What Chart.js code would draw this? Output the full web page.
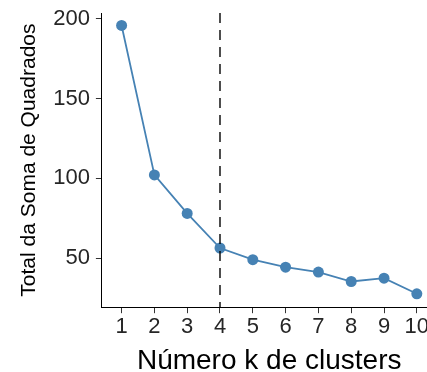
<!DOCTYPE html>
<html>
<head>
<meta charset="utf-8">
<script src="https://cdn.jsdelivr.net/npm/chart.js@4/dist/chart.umd.min.js"></script>
<style>
    html, body { margin: 0; padding: 0; background: #fff; overflow: hidden; }
    #wrap { width: 442px; height: 372px; }
</style>
</head>
<body>
<div id="wrap"><canvas id="elbowChart" width="442" height="372"></canvas></div>
<script>
// k values and total within sum of squares
const kValues = [1, 2, 3, 4, 5, 6, 7, 8, 9, 10];
const wssValues = [195.8, 102.1, 78.0, 56.3, 49.0, 44.3, 41.2, 35.3, 37.4, 27.6];
const yTickValues = [50, 100, 150, 200];
const optimalK = [4];

const yMin = 19.2, yMax = 203.6;
const xMin = 0.4, xMax = 10.6;

document.addEventListener("DOMContentLoaded", function () {
    const ctx = document.getElementById('elbowChart').getContext('2d');

    const steel = '#4682b4';
    const family = 'Liberation Sans, Arial, sans-serif';

    const data = {
        datasets: [
            {
                label: 'k',
                data: [{ x: optimalK[0], y: yMax }, { x: optimalK[0], y: yMin }],
                borderColor: '#000',
                borderWidth: 1.4,
                borderDash: [10, 7],
                pointRadius: 0,
                order: 0
            },
            {
                label: 'wss',
                data: kValues.map((k, i) => ({ x: k, y: wssValues[i] })),
                borderColor: steel,
                backgroundColor: steel,
                borderWidth: 1.8,
                pointRadius: 5.5,
                pointBorderWidth: 0,
                tension: 0,
                order: 1
            }
        ]
    };

    const options = {
        responsive: false,
        animation: false,
        layout: { padding: { left: 17, top: 13, right: 5, bottom: 0 } },
        plugins: {
            legend: { display: false },
            tooltip: { enabled: false }
        },
        scales: {
            x: {
                type: 'linear',
                min: xMin,
                max: xMax,
                afterBuildTicks: function (scale) {
                    scale.ticks = kValues.map(v => ({ value: v }));
                },
                grid: { display: true, drawOnChartArea: false, drawTicks: true, tickLength: 6, color: '#333' },
                border: { display: true, color: '#000', width: 1 },
                ticks: { color: '#262626', font: { family: family, size: 22 }, padding: 1, maxRotation: 0, autoSkip: false },
                title: {
                    display: true,
                    text: 'Número k de clusters',
                    color: '#000',
                    font: { family: family, size: 28, lineHeight: 0.8 },
                    padding: { top: 8, bottom: 0 }
                }
            },
            y: {
                type: 'linear',
                min: yMin,
                max: yMax,
                afterBuildTicks: function (scale) {
                    scale.ticks = yTickValues.map(v => ({ value: v }));
                },
                grid: { display: true, drawOnChartArea: false, drawTicks: true, tickLength: 6, color: '#333' },
                border: { display: true, color: '#000', width: 1 },
                ticks: { color: '#262626', font: { family: family, size: 22, lineHeight: 0.6 }, padding: 6 },
                title: {
                    display: true,
                    text: 'Total da Soma de Quadrados',
                    color: '#000',
                    font: { family: family, size: 21 },
                    padding: { top: 0, bottom: 5 }
                }
            }
        }
    };

    new Chart(ctx, { type: 'line', data: data, options: options });
});
</script>
</body>
</html>
